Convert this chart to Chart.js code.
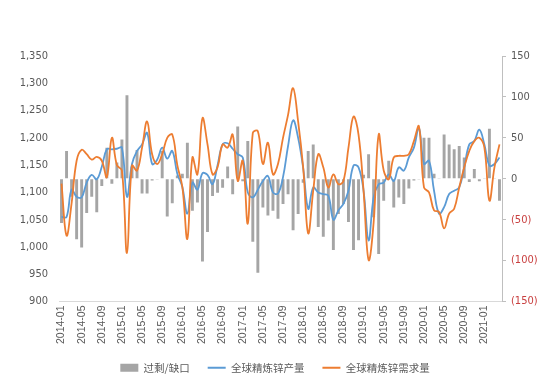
<!DOCTYPE html>
<html>
<head>
<meta charset="utf-8">
<script src="https://cdn.jsdelivr.net/npm/chart.js@4.4.1/dist/chart.umd.min.js"></script>
<style>
  body { margin: 0; background: #fff; }
  #wrap { width: 550px; height: 387px; }
</style>
</head>
<body>
<div id="wrap"><canvas id="canvas" width="550" height="387"></canvas></div>
<script>
// months 2014-01 .. 2021-04
var months = []
for (var y = 2014; y <= 2021; y++) {
    for (var m = 1; m <= 12; m++) {
        if (y === 2021 && m > 4) break
        months.push(y + '-' + (m < 10 ? '0' + m : m))
    }
}

// 过剩/缺口 (right axis)
var gap = [
    -54, 34, -22, -74, -84, -42, -22, -41, -9, 38, -6, 20,
    48, 102, 15, 35, -18, -18, -2, -1, 34, -46, -30, 4,
    6, 44, -39, -29, -101, -65, -21, -17, -11, 15, -19, 64,
    -3, 46, -77, -115, -35, -45, -39, -49, -31, -19, -63, -43,
    -5, 34, 42, -59, -71, -51, -87, -43, -31, -53, -87, -75,
    5, 30, -47, -92, -27, 22, -35, -23, -31, -12, -2, -1,
    50, 50, 6, 1, 54, 42, 36, 40, 26, -4, 12, -3,
    1, 61, 1, -27
]

// 全球精炼锌产量 (left axis)
var production = [
    1055, 1055, 1105, 1092, 1091, 1118, 1132, 1124, 1147, 1179, 1179, 1180,
    1182, 1092, 1152, 1176, 1188, 1209, 1152, 1160, 1182, 1162, 1176, 1134,
    1110, 1061, 1118, 1105, 1135, 1132, 1115, 1150, 1188, 1190, 1180, 1170,
    1164, 1100, 1091, 1105, 1121, 1130, 1100, 1098, 1128, 1185, 1232, 1200,
    1145, 1070, 1109, 1100, 1097, 1094, 1050, 1067, 1079, 1103, 1149, 1146,
    1103, 1012, 1091, 1115, 1118, 1133, 1121, 1146, 1140, 1164, 1182, 1218,
    1152, 1158, 1103, 1061, 1073, 1097, 1103, 1109, 1146, 1188, 1194, 1215,
    1188, 1149, 1152, 1164
]

// 全球精炼锌需求量 (left axis)
var demand = [
    1116, 1021, 1080, 1158, 1178, 1170, 1160, 1165, 1158, 1128, 1200, 1150,
    1140, 989, 1149, 1140, 1182, 1230, 1170, 1152, 1170, 1200, 1206, 1150,
    1110, 1015, 1164, 1133, 1236, 1188, 1133, 1146, 1188, 1182, 1206, 1121,
    1158, 1043, 1209, 1212, 1152, 1191, 1133, 1152, 1200, 1242, 1291, 1230,
    1146, 1025, 1103, 1170, 1146, 1109, 1133, 1115, 1121, 1182, 1239, 1206,
    1103, 976, 1045, 1206, 1140, 1124, 1164, 1167, 1167, 1170, 1194, 1221,
    1109, 1100, 1067, 1064, 1034, 1061, 1070, 1109, 1146, 1176, 1194, 1200,
    1182, 1085, 1146, 1188
]

var tickFont = { family: '"Liberation Sans Narrow", "DejaVu Sans Condensed", "Liberation Sans", sans-serif', size: 11 }
var textColor = '#595959'

var ctx = document.getElementById('canvas').getContext('2d')
var config = {
    type: 'bar',
    data: {
        labels: months,
        datasets: [{
            label: '过剩/缺口',
            data: gap,
            yAxisID: 'yRight',
            backgroundColor: '#a5a5a5',
            borderWidth: 0,
            barPercentage: 0.58,
            categoryPercentage: 1,
            pointStyle: 'rect',
            order: 3
        }, {
            type: 'line',
            label: '全球精炼锌产量',
            data: production,
            yAxisID: 'yLeft',
            borderColor: '#5b9bd5',
            backgroundColor: '#5b9bd5',
            borderWidth: 1.8,
            pointRadius: 0,
            tension: 0.4,
            fill: false,
            pointStyle: 'line',
            order: 2
        }, {
            type: 'line',
            label: '全球精炼锌需求量',
            data: demand,
            yAxisID: 'yLeft',
            borderColor: '#ed7d31',
            backgroundColor: '#ed7d31',
            borderWidth: 1.8,
            pointRadius: 0,
            tension: 0.4,
            fill: false,
            pointStyle: 'line',
            order: 1
        }]
    },
    options: {
        responsive: false,
        animation: false,
        layout: { padding: { top: 56, right: 0, bottom: 4, left: 0 } },
        plugins: {
            tooltip: { enabled: false },
            legend: {
                position: 'bottom',
                labels: {
                    usePointStyle: true,
                    pointStyleWidth: 18,
                    boxHeight: 8,
                    padding: 18,
                    color: textColor,
                    font: { family: '"Noto Sans CJK SC", sans-serif', size: 10.5 },
                    sort: function(a, b) { return a.datasetIndex - b.datasetIndex }
                }
            }
        },
        scales: {
            x: {
                grid: { display: false, drawTicks: false },
                border: { display: true, color: '#d9d9d9', width: 1 },
                ticks: {
                    autoSkip: false,
                    maxRotation: 90,
                    minRotation: 90,
                    color: textColor,
                    padding: 4,
                    font: { family: '"Liberation Sans", sans-serif', size: 10.5 },
                    callback: function(v, i) { return i % 4 === 0 ? months[i] : '' }
                },
                afterFit: function(s) { s.height = 43 }
            },
            yLeft: {
                position: 'left',
                min: 900,
                max: 1350,
                grid: { display: false, drawTicks: false },
                border: { display: false },
                ticks: {
                    stepSize: 50,
                    color: textColor,
                    font: tickFont,
                    padding: 11,
                    callback: function(v) { return v.toLocaleString('en-US') }
                },
                afterFit: function(s) { s.width = 59 }
            },
            yRight: {
                position: 'right',
                min: -150,
                max: 150,
                grid: { display: true, drawOnChartArea: false, drawTicks: true, tickLength: 4, color: '#bfbfbf' },
                border: { display: true, color: '#bfbfbf', width: 1 },
                ticks: {
                    stepSize: 50,
                    padding: 5,
                    font: tickFont,
                    color: function(c) { return c.tick && c.tick.value < 0 ? '#c94040' : textColor },
                    callback: function(v) { return v < 0 ? '(' + Math.abs(v) + ')' : String(v) }
                },
                afterFit: function(s) { s.width = 48 }
            }
        }
    }
}

var mychart = new Chart(ctx, config)
</script>
</body>
</html>
